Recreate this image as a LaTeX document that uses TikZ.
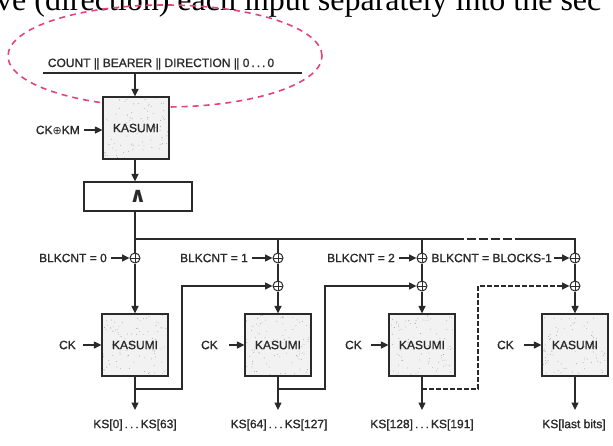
\documentclass[tikz,border=0pt]{standalone}
\usepackage{fontspec}
\setmainfont{Liberation Sans}[FakeBold=1.2]
\newfontfamily\pageserif{Liberation Serif}
\newfontfamily\symfont{DejaVu Sans}
\usetikzlibrary{arrows.meta,calc}
\definecolor{ink}{HTML}{2A2A2A}
\definecolor{pinkmark}{RGB}{226,68,120}
\definecolor{boxfill}{HTML}{F2F2F2}
\newcommand\dblbar{\textbar\kern-0.6pt\textbar}
\newcommand\dotsep{\,.\,.\,.\,}
\begin{document}
\begin{tikzpicture}[x=1pt,y=-1pt,
  every node/.style={font=\fontsize{12}{14}\selectfont, text=ink},
  wire/.style={draw=ink, line width=1.2pt},
  arr/.style={wire, -{Triangle[length=7.5pt,width=7pt]}},
  kasumi/.style={draw=ink, line width=1.2pt, fill=boxfill, minimum width=66pt, minimum height=62pt, inner sep=0pt,
    path picture={\foreach \i in {1,...,90}{\fill[gray!75] ($(path picture bounding box.south west)+(rnd*66,-rnd*62)$) circle (0.45pt);}}},
  andbox/.style={draw=ink, line width=1.2pt, minimum width=108pt, minimum height=29pt, inner sep=0pt},
  xor/.style={circle, draw=ink, line width=1pt, minimum size=10pt, inner sep=0pt, fill=white,
    path picture={\draw[ink, line width=1pt] (path picture bounding box.north) -- (path picture bounding box.south)
      (path picture bounding box.west) -- (path picture bounding box.east);}},
  lbl/.style={inner sep=0pt, anchor=east},
  txt/.style={inner sep=0pt},
]
\useasboundingbox (0,0) rectangle (613,445);
\pgfmathsetseed{4711}

% fragment of page text (top clipped)
\node[anchor=base west, inner sep=0pt, font=\pageserif\fontsize{32}{36}\selectfont, text=black] (pagetext) at (-4,10)
  {ve (direction) each input separately into the sec};

% pink annotation ellipse
\draw[pinkmark, line width=1.6pt, dash pattern=on 6pt off 5pt] (165,56) ellipse [x radius=157pt, y radius=51pt];

% input
\node[txt, anchor=base] (intext) at (161,67) {COUNT \dblbar{} BEARER \dblbar{} DIRECTION \dblbar{} 0\dotsep0};
\coordinate (inL) at (43,73);
\coordinate (inR) at (302,73);
\coordinate (inTap) at (135,73);
\draw[wire] (inL) -- (inR);

% first KASUMI and AND box
\node[kasumi] (k0) at (136,128) {KASUMI};
\draw[arr] (inTap) -- (inTap |- k0.north);
\node[lbl] (ckkm) at (80,130) {CK{\symfont\fontsize{11}{12}\selectfont ⊕}KM};
\draw[arr] ([xshift=4pt]ckkm.east) -- (ckkm.east -| k0.west);
\node[andbox, font=\symfont\bfseries\fontsize{21}{22}\selectfont] (andb) at (138,196.5) {∧};
\draw[arr] (inTap |- k0.south) -- (inTap |- andb.north);

% XORs
\node[xor] (xa1) at (135,258) {};
\node[xor] (xa2) at (278,258) {};
\node[xor] (xb2) at (278,286) {};
\node[xor] (xa3) at (422,258) {};
\node[xor] (xb3) at (422,286) {};
\node[xor] (xa4) at (575,258) {};
\node[xor] (xb4) at (575,286) {};

% bus
\coordinate (b1) at (135,239);
\coordinate (b2) at (278,239);
\coordinate (b3) at (422,239);
\coordinate (bd1) at (455,239);
\coordinate (bd2) at (515,239);
\coordinate (b4) at (575,239);
\draw[wire] (andb.south -| xa1) -- (xa1.north);
\draw[wire] (b1) -- (bd1);
\draw[wire, dash pattern=on 9pt off 3pt] (bd1) -- (bd2);
\draw[wire] (bd2) -- (b4) -- (xa4.north);
\draw[wire] (b2) -- (xa2.north);
\draw[wire] (b3) -- (xa3.north);
\draw[wire] (xa2.south) -- (xb2.north);
\draw[wire] (xa3.south) -- (xb3.north);
\draw[wire] (xa4.south) -- (xb4.north);

% BLKCNT labels
\node[lbl] (bl0) at (107,258) {BLKCNT = 0};
\node[lbl] (bl1) at (248,258) {BLKCNT = 1};
\node[lbl] (bl2) at (395,258) {BLKCNT = 2};
\node[lbl] (bl3) at (552,258) {BLKCNT = BLOCKS-1};
\draw[arr] ([xshift=4pt]bl0.east) -- (xa1.west);
\draw[arr] ([xshift=4pt]bl1.east) -- (xa2.west);
\draw[arr] ([xshift=4pt]bl2.east) -- (xa3.west);
\draw[arr] ([xshift=2pt]bl3.east) -- (xa4.west);

% KASUMI row
\node[kasumi] (k1) at (135,345) {KASUMI};
\node[kasumi] (k2) at (278,345) {KASUMI};
\node[kasumi] (k3) at (422,345) {KASUMI};
\node[kasumi] (k4) at (575,345) {KASUMI};
\draw[arr] (xa1.south) -- (k1.north);
\draw[arr] (xb2.south) -- (k2.north);
\draw[arr] (xb3.south) -- (k3.north);
\draw[arr] (xb4.south) -- (k4.north);

% CK inputs
\node[lbl] (ck1) at (76,345) {CK};
\node[lbl] (ck2) at (218,345) {CK};
\node[lbl] (ck3) at (362,345) {CK};
\node[lbl] (ck4) at (514,345) {CK};
\draw[arr] ([xshift=7pt]ck1.east) -- (k1.west);
\draw[arr] ([xshift=11pt]ck2.east) -- (k2.west);
\draw[arr] ([xshift=9pt]ck3.east) -- (k3.west);
\draw[arr] ([xshift=10pt]ck4.east) -- (k4.west);

% outputs
\node[txt] (ks1) at (135,425) {KS[0]\dotsep KS[63]};
\node[txt] (ks2) at (279,425) {KS[64]\dotsep KS[127]};
\node[txt] (ks3) at (422,425) {KS[128]\dotsep KS[191]};
\node[txt] (ks4) at (574,425) {KS[last bits]};
\draw[arr] (k1.south) -- (k1.south |- 0,410);
\draw[arr] (k2.south) -- (k2.south |- 0,410);
\draw[arr] (k3.south) -- (k3.south |- 0,410);
\draw[arr] (k4.south) -- (k4.south |- 0,410);

% feedback
\coordinate (fb1) at (182,389);
\coordinate (fb2) at (325,389);
\coordinate (fb3) at (478,389);
\draw[arr] (k1.south |- fb1) -- (fb1) |- (xb2.west);
\draw[arr] (k2.south |- fb2) -- (fb2) |- (xb3.west);
\draw[arr, dash pattern=on 5pt off 2pt] (k3.south |- fb3) -- (fb3) |- (xb4.west);
\end{tikzpicture}
\end{document}
